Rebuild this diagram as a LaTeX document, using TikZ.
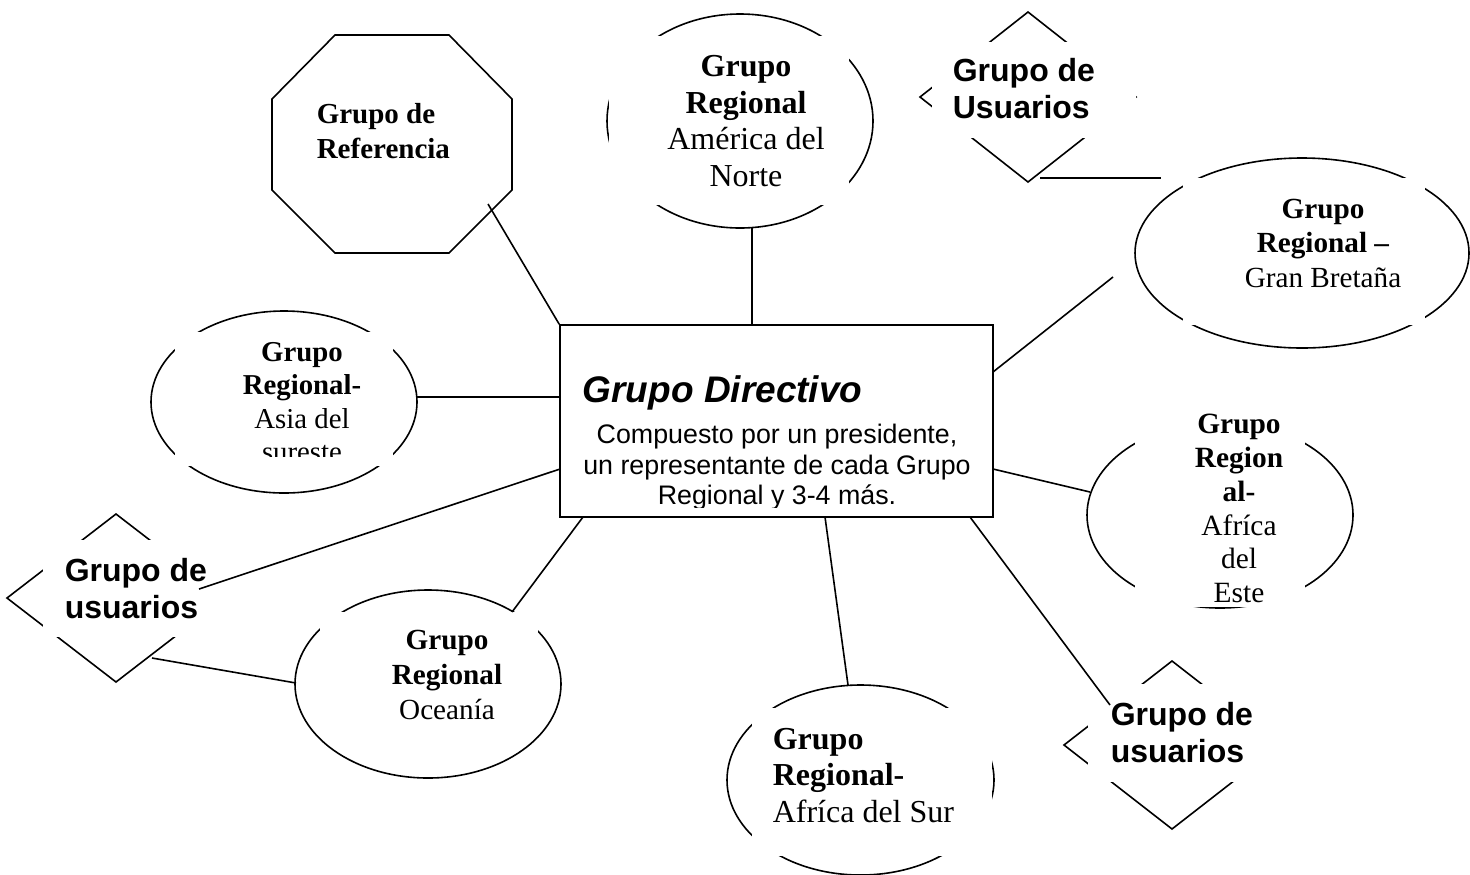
\documentclass[tikz,border=0pt]{standalone}
\usepackage{fontspec}
\setmainfont{Liberation Serif}
\newfontfamily\arialf{Liberation Sans}
\usetikzlibrary{shapes.geometric}
\begin{document}
\begin{tikzpicture}[x=0.5pt,y=-0.5pt, line width=0.8pt,
  shp/.style={draw, inner sep=0pt, outer sep=0pt},
  ell/.style={shp, ellipse},
  dia/.style={shp, diamond},
  mask/.style={fill=white, draw=none},
  conn/.style={draw, line width=0.8pt},
  lbl/.style={inner sep=0pt, align=center},
  usr/.style={inner sep=0pt, align=left, anchor=west, font=\arialf\bfseries\fontsize{16}{18.5}\selectfont},
]
\useasboundingbox (0,0) rectangle (1470,874);

% ---- shapes ----
\draw (335,35) -- (449,35) -- (512,99) -- (512,190) -- (449,253) -- (335,253) -- (272,190) -- (272,99) -- cycle;
\node[ell, minimum width=133pt, minimum height=107pt] (an) at (740,121) {};
\node[ell, minimum width=167pt, minimum height=95pt] (gb) at (1302,253) {};
\node[ell, minimum width=133pt, minimum height=91pt] (as) at (284,402) {};
\node[ell, minimum width=133pt, minimum height=94pt] (oc) at (428,684) {};
\node[ell, minimum width=133.5pt, minimum height=95pt] (asur) at (860.5,780) {};
\node[ell, minimum width=133pt, minimum height=93pt] (ae) at (1220,515) {};
\node[dia, minimum width=108pt, minimum height=85pt] (ut) at (1028,97) {};
\node[dia, minimum width=109pt, minimum height=84pt] (ul) at (116,598) {};
\node[dia, minimum width=108pt, minimum height=84pt] (ub) at (1172,745) {};

% ---- text boxes (white) ----
\fill[mask] (608.5,36) rectangle (849,205);
\fill[mask] (1183,178) rectangle (1425,325);
\fill[mask] (175,332) rectangle (393,466);
\fill[mask] (320,612) rectangle (538,735);
\fill[mask] (752,708) rectangle (992,856);
\fill[mask] (1135,400) rectangle (1305,607);
\fill[mask] (932,42) rectangle (1135.5,138);
\fill[mask] (43,540) rectangle (240,637);
\fill[mask] (1088,684) rectangle (1290,782);

% ---- central box ----
\node[draw, fill=white, inner sep=0pt, minimum width=216.5pt, minimum height=96pt] (gd) at (776.5,421) {};

% ---- texts ----
\node[inner sep=0pt, align=left, anchor=west, font=\bfseries\fontsize{14.5}{17.5}\selectfont] (ref) at (316,131) {Grupo de\\Referencia};
\node[lbl, font=\fontsize{16}{18.2}\selectfont] (antxt) at (746,121) {\textbf{Grupo}\\\textbf{Regional}\\América del\\Norte};
\node[lbl, font=\fontsize{14.6}{17.25}\selectfont] (gbtxt) at (1323,243) {\textbf{Grupo}\\\textbf{Regional –}\\Gran Bretaña};
\begin{scope}
\clip (175,332) rectangle (393,456);
\node[lbl, font=\fontsize{14.4}{16.7}\selectfont] (astxt) at (302,402) {\textbf{Grupo}\\\textbf{Regional-}\\Asia del\\sureste};
\end{scope}
\node[lbl, font=\fontsize{14.6}{17.5}\selectfont] (octxt) at (447,675) {\textbf{Grupo}\\\textbf{Regional}\\Oceanía};
\node[inner sep=0pt, align=left, anchor=west, font=\fontsize{16}{18.25}\selectfont] (asurtxt) at (772,775.5) {\textbf{Grupo}\\\textbf{Regional-}\\Afríca del Sur};
\node[lbl, font=\fontsize{14.7}{16.9}\selectfont] (aetxt) at (1239,508.5) {\textbf{Grupo}\\\textbf{Region}\\\textbf{al-}\\Afríca\\del\\Este};
\node[usr] (uttxt) at (952,88.5) {Grupo de\\Usuarios};
\node[usr] (ultxt) at (64,588.5) {Grupo de\\usuarios};
\node[usr] (ubtxt) at (1110,733) {Grupo de\\usuarios};
\node[inner sep=0pt, anchor=west, font=\arialf\bfseries\itshape\fontsize{18.5}{22}\selectfont] (gdtitle) at (582,392.6) {Grupo Directivo};
\begin{scope}
\clip (560,400) rectangle (993,507);
\node[lbl, font=\arialf\fontsize{13.4}{15.25}\selectfont] (gdbody) at (777,467.5) {Compuesto por un presidente,\\un representante de cada Grupo\\Regional y 3-4 más.};
\end{scope}

% ---- connector ends ----
\coordinate (refE) at (488,204);
\coordinate (anS) at (752,228);
\coordinate (gbW) at (1113,277);
\coordinate (utS) at (1040,178);
\coordinate (utE) at (1161,178);
\coordinate (asE) at (417,397);
\coordinate (aeW) at (1090,492);
\coordinate (ulE) at (199,589);
\coordinate (ulS) at (152,658);
\coordinate (ocW) at (296,683);
\coordinate (ocN) at (512,612);
\coordinate (asurN) at (848,685);
\coordinate (ubW) at (1110,705);
\coordinate (gdT) at (752,325);
\coordinate (gdR1) at (993,372);
\coordinate (gdR2) at (993,469);
\coordinate (gdL1) at (560,397);
\coordinate (gdL2) at (560,469);
\coordinate (gdB1) at (583,517);
\coordinate (gdB2) at (825,517);
\coordinate (gdB3) at (970,517);

% ---- connectors ----
\draw[conn] (refE) -- (gd.north west);
\draw[conn] (anS) -- (gdT);
\draw[conn] (gbW) -- (gdR1);
\draw[conn] (utS) -- (utE);
\draw[conn] (asE) -- (gdL1);
\draw[conn] (aeW) -- (gdR2);
\draw[conn] (ulE) -- (gdL2);
\draw[conn] (ulS) -- (ocW);
\draw[conn] (ocN) -- (gdB1);
\draw[conn] (asurN) -- (gdB2);
\draw[conn] (ubW) -- (gdB3);
\end{tikzpicture}
\end{document}
